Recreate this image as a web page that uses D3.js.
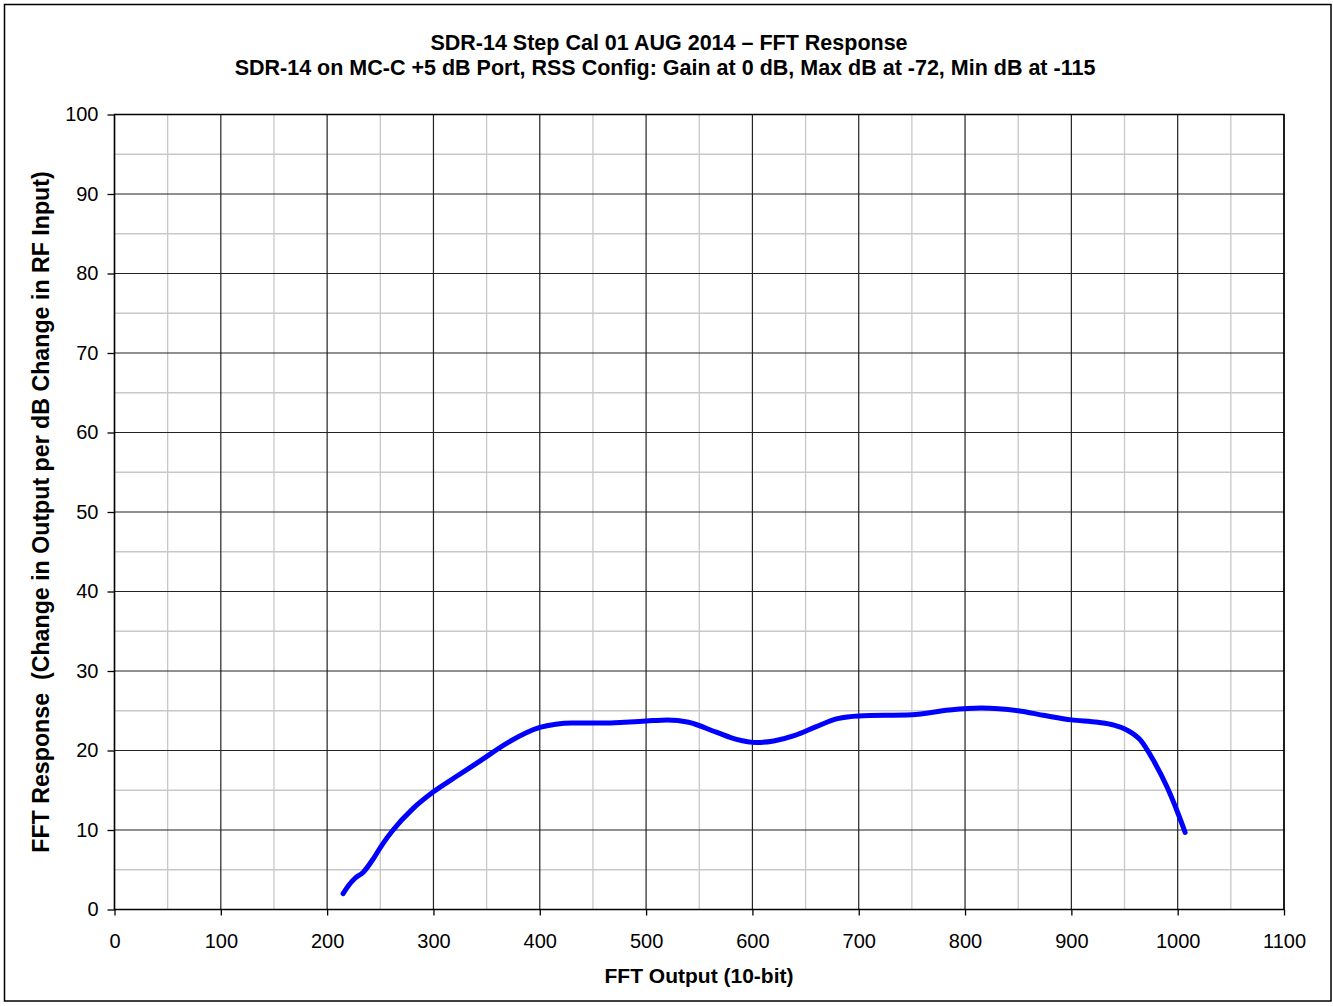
<!DOCTYPE html>
<html><head><meta charset="utf-8">
<script src="https://cdn.jsdelivr.net/npm/d3@7"></script>
<style>body{margin:0;background:#fff}svg{display:block}text{font-family:"Liberation Sans",Arial,sans-serif}</style>
</head><body>
<svg id="c" width="1333" height="1006"></svg>
<script>
const xVals = [215, 220, 226, 234, 244, 252, 262, 280, 300, 320, 344, 370, 400, 415, 430, 460, 480, 500, 520, 540, 566, 585, 604, 620, 640, 660, 680, 700, 750, 785, 815, 850, 875, 900, 925, 940, 952, 965, 977, 990, 1000, 1007];
const yVals = [2.0, 3.0, 3.9, 4.7, 6.5, 8.2, 10.0, 12.6, 14.8, 16.6, 18.7, 21.0, 22.9, 23.3, 23.45, 23.45, 23.55, 23.7, 23.85, 23.55, 22.3, 21.4, 21.0, 21.2, 21.9, 23.0, 24.0, 24.35, 24.5, 25.1, 25.35, 25.0, 24.4, 23.85, 23.55, 23.2, 22.6, 21.3, 18.8, 15.4, 12.2, 9.7];
const xTicks = [0,100,200,300,400,500,600,700,800,900,1000,1100];
const yTicks = [0,10,20,30,40,50,60,70,80,90,100];
const titleLines = ["SDR-14 Step Cal 01 AUG 2014 \u2013 FFT Response","SDR-14 on MC-C +5 dB Port, RSS Config: Gain at 0 dB, Max dB at -72, Min dB at -115"];
const xTitle = "FFT Output (10-bit)";
const yTitle = "FFT Response  (Change in Output per dB Change in RF Input)";

const svg = d3.select("#c");
const L=114.5, R=1284, T=114.5, B=909.5;
const x = d3.scaleLinear().domain([0,1100]).range([L,R]);
const y = d3.scaleLinear().domain([0,100]).range([B,T]);

svg.append("rect").attr("x",4.5).attr("y",4.5).attr("width",1326.5).attr("height",996.5).attr("fill","#fff").attr("stroke","#000").attr("stroke-width",1.5);

const g = svg.append("g");
d3.range(50,1100,100).forEach(v=>g.append("line").attr("x1",x(v)).attr("x2",x(v)).attr("y1",T).attr("y2",B).attr("stroke","#c8c8c8").attr("stroke-width",1.3));
d3.range(5,100,10).forEach(v=>g.append("line").attr("y1",y(v)).attr("y2",y(v)).attr("x1",L).attr("x2",R).attr("stroke","#c8c8c8").attr("stroke-width",1.3));
xTicks.forEach(v=>g.append("line").attr("x1",x(v)).attr("x2",x(v)).attr("y1",T).attr("y2",B).attr("stroke","#222").attr("stroke-width",1.2));
yTicks.forEach(v=>g.append("line").attr("y1",y(v)).attr("y2",y(v)).attr("x1",L).attr("x2",R).attr("stroke","#222").attr("stroke-width",1.2));

const xa = svg.append("g").attr("transform",`translate(0,${B})`).call(d3.axisBottom(x).tickValues(xTicks).tickSize(6).tickPadding(18).tickFormat(d3.format("d")));
const ya = svg.append("g").attr("transform",`translate(${L},0)`).call(d3.axisLeft(y).tickValues(yTicks).tickSize(7).tickPadding(9).tickFormat(d3.format("d")));
[xa,ya].forEach(a=>{a.select(".domain").remove();a.selectAll("line").attr("stroke","#000").attr("stroke-width",1.3);a.selectAll("text").attr("font-size",20).attr("fill","#000").attr("font-family","'Liberation Sans',Arial,sans-serif");});
xa.selectAll("text").attr("dy",null).attr("y",38.5);
svg.append("rect").attr("x",L).attr("y",T).attr("width",R-L).attr("height",B-T).attr("fill","none").attr("stroke","#000").attr("stroke-width",1.5);

const data = xVals.map((v,i)=>[v,yVals[i]]);
svg.append("path").datum(data).attr("fill","none").attr("stroke","#0000ff").attr("stroke-width",5).attr("stroke-linecap","round").attr("stroke-linejoin","round")
  .attr("d",d3.line().x(d=>x(d[0])).y(d=>y(d[1])).curve(d3.curveMonotoneX));

svg.append("text").attr("x",669).attr("y",50).attr("text-anchor","middle").attr("font-weight","bold").attr("font-size",21.5).text(titleLines[0]);
svg.append("text").attr("x",665).attr("y",75).attr("text-anchor","middle").attr("font-weight","bold").attr("font-size",21.5).text(titleLines[1]);
svg.append("text").attr("x",699).attr("y",983).attr("text-anchor","middle").attr("font-weight","bold").attr("font-size",21).text(xTitle);
svg.append("text").attr("transform",`translate(49,${(T+B)/2}) rotate(-90)`).attr("text-anchor","middle").attr("font-weight","bold").attr("font-size",23.2).style("white-space","pre").attr("xml:space","preserve").text(yTitle);
</script>
</body></html>
